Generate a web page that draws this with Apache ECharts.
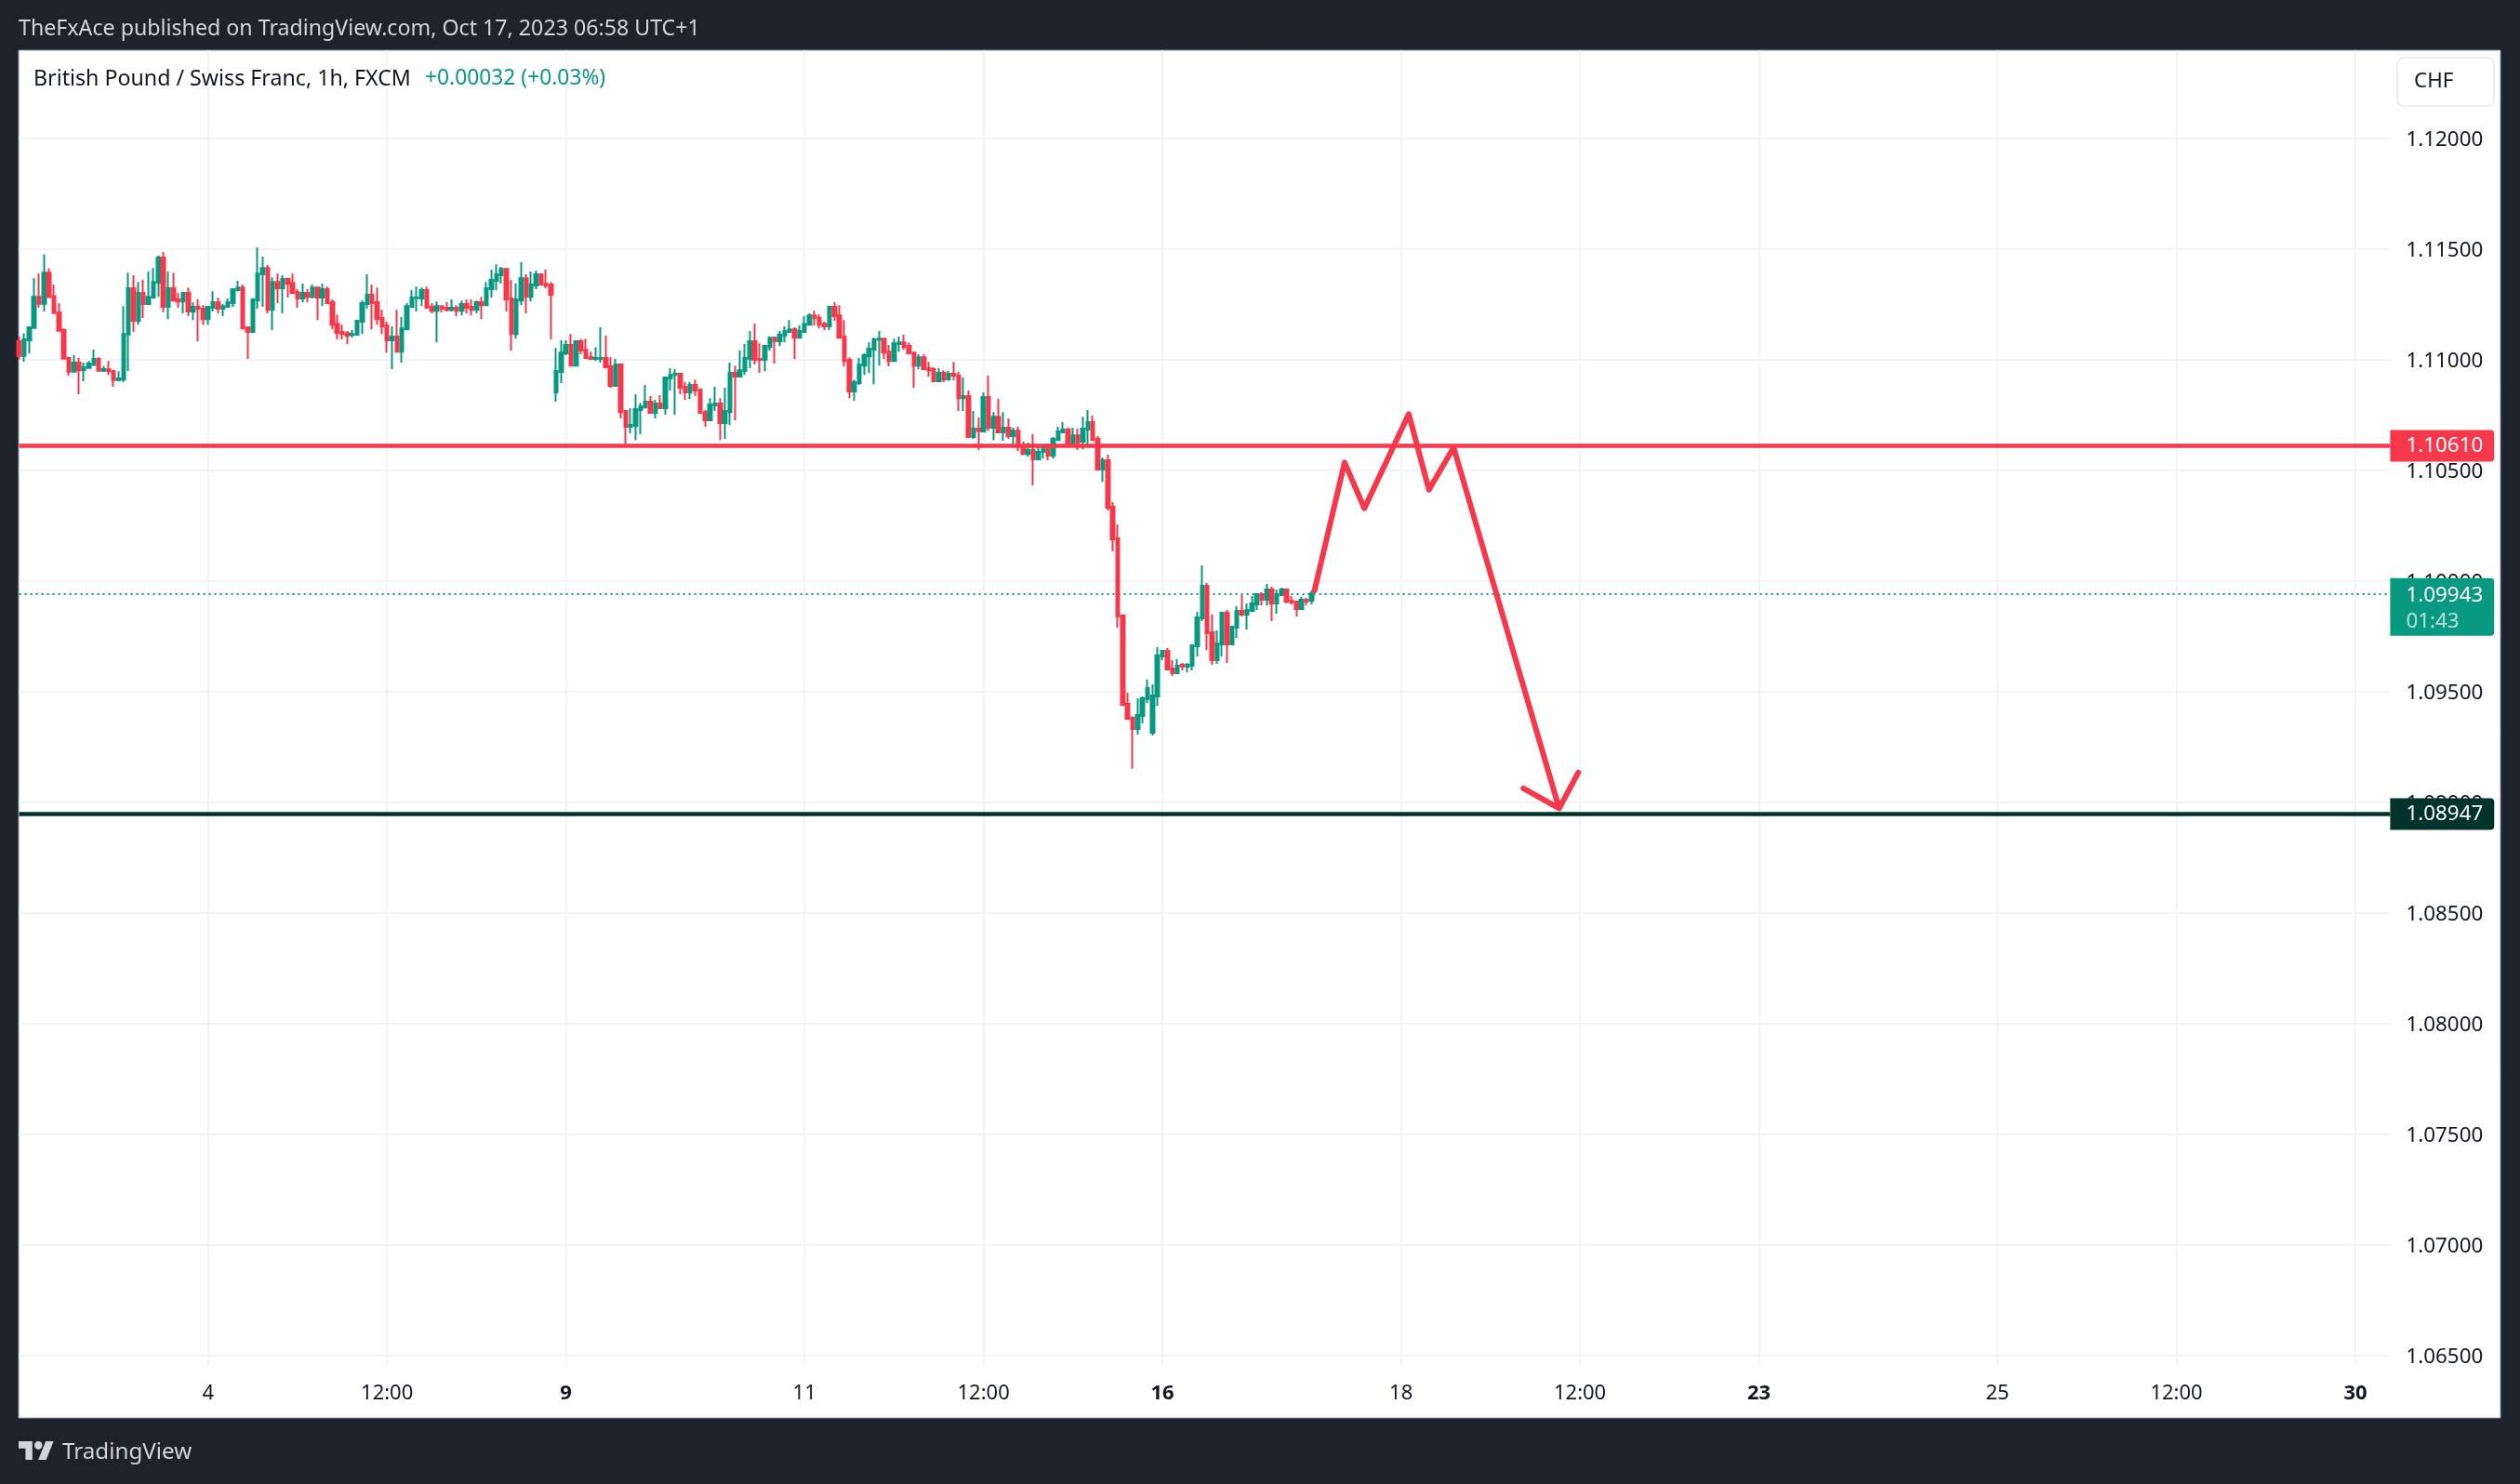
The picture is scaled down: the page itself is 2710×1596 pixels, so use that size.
<!DOCTYPE html>
<html>
<head>
<meta charset="utf-8">
<title>GBPCHF 1h</title>
<style>
  html, body { margin: 0; padding: 0; background: #1e222d; }
  #chart { width: 2710px; height: 1596px; }
</style>
<script src="https://cdn.jsdelivr.net/npm/echarts@6/dist/echarts.min.js"></script>
</head>
<body>
<div id="chart"></div>
<script>
// Hourly candles, first bar is Oct 2
const opens = [
  1.11084,1.11017,1.11087,1.11143,1.11284,1.11252,1.11393,1.11287,1.11213,1.11133,
  1.11007,1.10945,1.10986,1.10952,1.10962,1.10976,1.11003,1.10950,1.10957,1.10948,
  1.10908,1.10910,1.11113,1.11322,1.11175,1.11301,1.11251,1.11280,1.11347,1.11461,
  1.11238,1.11322,1.11272,1.11263,1.11301,1.11217,1.11238,1.11230,1.11183,1.11234,
  1.11259,1.11230,1.11238,1.11255,1.11314,1.11326,1.11146,1.11125,1.11267,1.11385,
  1.11414,1.11225,1.11351,1.11322,1.11364,1.11347,1.11305,1.11276,1.11301,1.11284,
  1.11326,1.11280,1.11318,1.11259,1.11162,1.11125,1.11120,1.11112,1.11112,1.11171,
  1.11251,1.11293,1.11259,1.11188,1.11154,1.11087,1.11104,1.11036,1.11137,1.11238,
  1.11277,1.11276,1.11314,1.11238,1.11221,1.11242,1.11234,1.11225,1.11234,1.11221,
  1.11251,1.11238,1.11225,1.11259,1.11246,1.11318,1.11356,1.11381,1.11410,1.11276,
  1.11116,1.11267,1.11368,1.11284,1.11335,1.11385,1.11343,1.11339,1.10852,1.10944,
  1.11028,1.11066,1.10973,1.11083,1.11045,1.11011,1.11003,1.11003,1.11007,1.10969,
  1.10881,1.10978,1.10768,1.10696,1.10700,1.10772,1.10784,1.10810,1.10759,1.10801,
  1.10780,1.10915,1.10931,1.10936,1.10877,1.10852,1.10885,1.10864,1.10763,1.10726,
  1.10793,1.10801,1.10713,1.10763,1.10940,1.10923,1.10948,1.11003,1.11083,1.11003,
  1.10999,1.11057,1.11099,1.11083,1.11108,1.11125,1.11137,1.11099,1.11125,1.11158,
  1.11200,1.11188,1.11162,1.11150,1.11238,1.11200,1.11104,1.10999,1.10856,1.10894,
  1.10973,1.11015,1.11045,1.11090,1.11095,1.11036,1.10994,1.11070,1.11078,1.11062,
  1.11032,1.10973,1.11011,1.10961,1.10957,1.10902,1.10940,1.10910,1.10936,1.10927,
  1.10826,1.10835,1.10650,1.10688,1.10675,1.10831,1.10692,1.10742,1.10671,1.10692,
  1.10654,1.10679,1.10612,1.10574,1.10591,1.10549,1.10583,1.10604,1.10566,1.10637,
  1.10671,1.10684,1.10621,1.10658,1.10629,1.10684,1.10717,1.10642,1.10503,1.10545,
  1.10335,1.10192,1.09844,1.09445,1.09382,1.09331,1.09390,1.09466,1.09314,1.09478,
  1.09659,1.09684,1.09604,1.09583,1.09621,1.09612,1.09617,1.09705,1.09831,1.09978,
  1.09768,1.09642,1.09713,1.09856,1.09713,1.09789,1.09865,1.09848,1.09865,1.09894,
  1.09940,1.09915,1.09961,1.09898,1.09936,1.09961,1.09911,1.09907,1.09873,1.09915,1.09911
];
const closes = [
  1.11017,1.11091,1.11146,1.11284,1.11252,1.11393,1.11283,1.11210,1.11130,1.11004,
  1.10945,1.10986,1.10952,1.10965,1.10982,1.11003,1.10950,1.10957,1.10947,1.10908,
  1.10915,1.11116,1.11322,1.11175,1.11301,1.11251,1.11284,1.11351,1.11461,1.11238,
  1.11322,1.11267,1.11263,1.11301,1.11217,1.11238,1.11230,1.11183,1.11238,1.11259,
  1.11230,1.11242,1.11259,1.11318,1.11326,1.11141,1.11125,1.11272,1.11389,1.11414,
  1.11225,1.11351,1.11322,1.11364,1.11343,1.11301,1.11276,1.11301,1.11284,1.11326,
  1.11280,1.11318,1.11255,1.11158,1.11120,1.11116,1.11108,1.11116,1.11175,1.11255,
  1.11293,1.11255,1.11183,1.11150,1.11087,1.11104,1.11036,1.11141,1.11242,1.11280,
  1.11280,1.11314,1.11234,1.11221,1.11242,1.11230,1.11225,1.11234,1.11221,1.11251,
  1.11234,1.11225,1.11259,1.11246,1.11322,1.11360,1.11385,1.11410,1.11272,1.11116,
  1.11272,1.11368,1.11284,1.11339,1.11385,1.11339,1.11335,1.11293,1.10948,1.11032,
  1.11066,1.10973,1.11083,1.11041,1.11007,1.11003,1.11007,1.11007,1.10965,1.10881,
  1.10978,1.10763,1.10696,1.10705,1.10776,1.10789,1.10810,1.10759,1.10801,1.10780,
  1.10919,1.10931,1.10936,1.10873,1.10852,1.10885,1.10860,1.10759,1.10726,1.10797,
  1.10801,1.10713,1.10768,1.10940,1.10923,1.10952,1.11007,1.11083,1.10999,1.10999,
  1.11062,1.11099,1.11083,1.11112,1.11129,1.11137,1.11099,1.11129,1.11162,1.11200,
  1.11188,1.11158,1.11150,1.11238,1.11196,1.11099,1.10994,1.10856,1.10898,1.10978,
  1.11020,1.11049,1.11091,1.11095,1.11032,1.10994,1.11074,1.11078,1.11057,1.11028,
  1.10973,1.11011,1.10957,1.10952,1.10902,1.10940,1.10910,1.10936,1.10927,1.10826,
  1.10835,1.10650,1.10688,1.10677,1.10831,1.10692,1.10742,1.10671,1.10692,1.10654,
  1.10679,1.10608,1.10574,1.10591,1.10549,1.10583,1.10600,1.10566,1.10642,1.10675,
  1.10684,1.10621,1.10658,1.10625,1.10688,1.10717,1.10637,1.10503,1.10545,1.10331,
  1.10188,1.09839,1.09440,1.09377,1.09331,1.09394,1.09470,1.09516,1.09482,1.09663,
  1.09684,1.09600,1.09583,1.09617,1.09613,1.09621,1.09709,1.09835,1.09978,1.09764,
  1.09642,1.09718,1.09856,1.09713,1.09793,1.09865,1.09848,1.09869,1.09898,1.09940,
  1.09915,1.09961,1.09898,1.09940,1.09961,1.09907,1.09902,1.09873,1.09915,1.09907,1.09943
];
const lows = [
  1.11000,1.10990,1.11028,1.11143,1.11235,1.11217,1.11280,1.11210,1.11130,1.11004,
  1.10927,1.10945,1.10843,1.10902,1.10962,1.10972,1.10950,1.10944,1.10931,1.10877,
  1.10902,1.10899,1.10948,1.11125,1.11158,1.11188,1.11251,1.11280,1.11284,1.11213,
  1.11183,1.11263,1.11234,1.11209,1.11196,1.11179,1.11083,1.11158,1.11158,1.11217,
  1.11209,1.11196,1.11234,1.11238,1.11309,1.11141,1.11003,1.11120,1.11230,1.11238,
  1.11209,1.11133,1.11255,1.11209,1.11280,1.11301,1.11234,1.11259,1.11259,1.11276,
  1.11179,1.11242,1.11255,1.11137,1.11091,1.11091,1.11070,1.11099,1.11108,1.11116,
  1.11230,1.11137,1.11158,1.11116,1.11032,1.10957,1.11036,1.10986,1.11133,1.11234,
  1.11217,1.11242,1.11230,1.11209,1.11078,1.11213,1.11217,1.11217,1.11196,1.11200,
  1.11209,1.11200,1.11209,1.11183,1.11246,1.11280,1.11314,1.11343,1.11217,1.11041,
  1.11095,1.11246,1.11209,1.11263,1.11318,1.11335,1.11322,1.11091,1.10810,1.10894,
  1.11020,1.10973,1.10973,1.11024,1.11007,1.10999,1.10994,1.10986,1.10961,1.10873,
  1.10877,1.10734,1.10612,1.10667,1.10637,1.10663,1.10784,1.10759,1.10734,1.10780,
  1.10751,1.10860,1.10751,1.10843,1.10818,1.10822,1.10835,1.10755,1.10696,1.10726,
  1.10768,1.10637,1.10642,1.10705,1.10726,1.10919,1.10931,1.10961,1.10978,1.10940,
  1.10948,1.11041,1.10982,1.11062,1.11078,1.11120,1.11003,1.11099,1.11125,1.11158,
  1.11154,1.11141,1.11133,1.11133,1.11175,1.11099,1.10969,1.10826,1.10814,1.10885,
  1.10931,1.10940,1.10889,1.10973,1.11003,1.10969,1.10994,1.11036,1.11045,1.11028,
  1.10873,1.10957,1.10957,1.10923,1.10902,1.10902,1.10898,1.10910,1.10906,1.10768,
  1.10768,1.10650,1.10642,1.10591,1.10675,1.10679,1.10637,1.10671,1.10633,1.10642,
  1.10604,1.10587,1.10574,1.10562,1.10432,1.10545,1.10553,1.10545,1.10553,1.10633,
  1.10667,1.10621,1.10616,1.10591,1.10595,1.10616,1.10637,1.10503,1.10448,1.10318,
  1.10133,1.09789,1.09440,1.09373,1.09151,1.09306,1.09356,1.09449,1.09302,1.09436,
  1.09642,1.09596,1.09571,1.09579,1.09596,1.09587,1.09596,1.09659,1.09818,1.09688,
  1.09621,1.09625,1.09659,1.09629,1.09713,1.09743,1.09839,1.09781,1.09865,1.09869,
  1.09890,1.09890,1.09818,1.09852,1.09932,1.09898,1.09894,1.09839,1.09873,1.09890,1.09894
];
const highs = [
  1.11105,1.11119,1.11146,1.11368,1.11389,1.11476,1.11413,1.11339,1.11255,1.11141,
  1.11007,1.11020,1.11007,1.10986,1.10994,1.11045,1.11011,1.10972,1.10994,1.10952,
  1.10947,1.11242,1.11393,1.11381,1.11351,1.11360,1.11398,1.11414,1.11469,1.11486,
  1.11398,1.11393,1.11301,1.11305,1.11326,1.11259,1.11272,1.11246,1.11242,1.11309,
  1.11280,1.11251,1.11276,1.11322,1.11356,1.11339,1.11146,1.11272,1.11507,1.11465,
  1.11427,1.11372,1.11389,1.11381,1.11364,1.11389,1.11318,1.11343,1.11318,1.11339,
  1.11326,1.11343,1.11330,1.11272,1.11204,1.11158,1.11129,1.11133,1.11179,1.11267,
  1.11385,1.11339,1.11326,1.11225,1.11171,1.11150,1.11225,1.11192,1.11255,1.11314,
  1.11330,1.11326,1.11330,1.11255,1.11263,1.11246,1.11259,1.11272,1.11246,1.11267,
  1.11272,1.11272,1.11267,1.11284,1.11351,1.11406,1.11431,1.11419,1.11410,1.11360,
  1.11343,1.11440,1.11385,1.11398,1.11402,1.11389,1.11406,1.11351,1.11053,1.11087,
  1.11087,1.11116,1.11087,1.11091,1.11095,1.11036,1.11057,1.11146,1.11108,1.11011,
  1.11003,1.10982,1.10772,1.10780,1.10843,1.10805,1.10885,1.10835,1.10818,1.10839,
  1.10919,1.10961,1.10957,1.10936,1.10898,1.10898,1.10910,1.10864,1.10772,1.10826,
  1.10877,1.10826,1.10873,1.10986,1.10973,1.11041,1.11070,1.11129,1.11162,1.11074,
  1.11066,1.11104,1.11104,1.11129,1.11150,1.11179,1.11146,1.11154,1.11196,1.11209,
  1.11221,1.11204,1.11171,1.11238,1.11259,1.11246,1.11179,1.11011,1.10910,1.11007,
  1.11028,1.11078,1.11099,1.11129,1.11095,1.11066,1.11095,1.11104,1.11112,1.11078,
  1.11036,1.11024,1.11024,1.10990,1.10965,1.10961,1.10952,1.10948,1.10990,1.10944,
  1.10919,1.10860,1.10768,1.10738,1.10852,1.10927,1.10763,1.10822,1.10763,1.10734,
  1.10692,1.10696,1.10629,1.10625,1.10663,1.10608,1.10608,1.10621,1.10650,1.10696,
  1.10717,1.10692,1.10692,1.10688,1.10742,1.10772,1.10747,1.10654,1.10558,1.10570,
  1.10356,1.10255,1.09844,1.09495,1.09386,1.09470,1.09478,1.09554,1.09533,1.09701,
  1.09688,1.09697,1.09642,1.09646,1.09629,1.09629,1.09709,1.09860,1.10070,1.09991,
  1.09848,1.09776,1.09860,1.09869,1.09793,1.09886,1.09936,1.09898,1.09932,1.09944,
  1.09949,1.09986,1.09974,1.09961,1.09970,1.09961,1.09932,1.09911,1.09928,1.09923,1.09957
];

// Time axis: bar index of each tick and its label
const tickIndex = [38, 74, 110, 158, 194, 230, 278, 314, 350, 398, 434, 470];
const tickLabels = ['4', '12:00', '9', '11', '12:00', '16', '18', '12:00', '23', '25', '12:00', '30'];
const boldTicks = ['9', '16', '23', '30'];
const barCount = 478;

// Price axis
const priceMin = 1.06453;
const priceMax = 1.12398;
const priceTicks = [1.065, 1.07, 1.075, 1.08, 1.085, 1.09, 1.095, 1.10, 1.105, 1.11, 1.115, 1.12];

// Horizontal lines drawn on the chart
const resistance = 1.10610;
const support = 1.08947;
const lastPrice = 1.09943;
const countdown = '01:43';

// Hand drawn projection: bar position and price of each vertex
const pencilBar = [260.6, 266.65, 270.63, 279.56, 283.62, 288.59, 309.81, 302.62, 309.81, 313.66];
const pencilPrice = [1.09957, 1.10535, 1.10328, 1.10754, 1.10412, 1.10603, 1.08972, 1.09063, 1.08972, 1.09134];

const RED = '#f7374a';
const GREEN = '#089981';
const DARK = '#00332a';
const GRID = '#f3f4f6';
const FRAME = '#1e222d';
const FONT = '"Noto Sans", sans-serif';

const categories = [];
for (let i = 0; i < barCount; i++) {
  categories.push(String(i));
}
const candles = opens.map((o, i) => [o, closes[i], lows[i], highs[i]]);
const pencil = pencilBar.map((b, i) => [b, pencilPrice[i]]);

const isTick = i => tickIndex.indexOf(i) !== -1;

function badge(value, text, color) {
  return {
    yAxis: value,
    lineStyle: { color: color, width: 4.5, type: 'solid' },
    label: {
      show: true,
      position: 'end',
      distance: 0,
      formatter: text,
      color: '#fff',
      fontFamily: FONT,
      fontSize: 22.4,
      lineHeight: 24,
      backgroundColor: color,
      padding: [6, 12, 4, 17],
      borderRadius: [0, 4, 4, 0]
    }
  };
}

var myChart = echarts.init(document.getElementById('chart'));

var option = {
  animation: false,
  backgroundColor: FRAME,
  grid: { left: 20.6, right: 139.6, top: 54, bottom: 127, containLabel: false },
  xAxis: [
    {
      type: 'category',
      data: categories,
      boundaryGap: false,
      axisLine: { show: false },
      axisTick: { show: false },
      splitLine: {
        show: true,
        interval: i => isTick(i),
        lineStyle: { color: GRID, width: 2 }
      },
      axisLabel: {
        interval: i => isTick(i),
        margin: 19,
        color: '#131722',
        fontFamily: FONT,
        fontSize: 22,
        formatter: function (value, i) {
          var label = tickLabels[tickIndex.indexOf(Number(value))];
          return boldTicks.indexOf(label) !== -1 ? '{b|' + label + '}' : label;
        },
        rich: { b: { fontWeight: 'bold', fontFamily: FONT, fontSize: 22, color: '#131722' } }
      }
    },
    { type: 'value', min: 0, max: barCount - 1, show: false }
  ],
  yAxis: {
    type: 'value',
    position: 'right',
    min: priceMin,
    max: priceMax,
    axisLine: { show: false },
    axisTick: { show: false, customValues: priceTicks },
    splitLine: { show: true, lineStyle: { color: GRID, width: 2 } },
    axisLabel: {
      customValues: priceTicks,
      margin: 17,
      verticalAlign: 'top',
      lineHeight: 3,
      color: '#131722',
      fontFamily: FONT,
      fontSize: 22.4,
      formatter: v => v.toFixed(5)
    }
  },
  series: [
    {
      // last price, stays behind the candles
      type: 'line',
      data: [],
      z: 1,
      markLine: {
        z: 1,
        precision: 5,
        silent: true,
        symbol: 'none',
        animation: false,
        data: [{
          yAxis: lastPrice,
          lineStyle: { color: GREEN, width: 2, type: [2, 4] },
          label: {
            show: true,
            position: 'end',
            distance: 0,
            offset: [0, 14.5],
            formatter: '{a|' + lastPrice.toFixed(5) + '}\n{c|' + countdown + '}',
            backgroundColor: GREEN,
            padding: [5, 12, 1, 17],
            borderRadius: [0, 4, 4, 0],
            rich: {
              a: { color: '#fff', fontFamily: FONT, fontSize: 22.4, lineHeight: 28 },
              c: { color: 'rgba(255,255,255,0.7)', fontFamily: FONT, fontSize: 22.4, lineHeight: 28 }
            }
          }
        }]
      }
    },
    {
      type: 'candlestick',
      data: candles,
      barWidth: 4,
      z: 2,
      itemStyle: {
        color: GREEN,
        color0: RED,
        borderColor: GREEN,
        borderColor0: RED,
        borderWidth: 2
      },
      markLine: {
        precision: 5,
        silent: true,
        symbol: 'none',
        animation: false,
        data: [
          badge(resistance, resistance.toFixed(5), RED),
          badge(support, support.toFixed(5), DARK)
        ]
      }
    },
    {
      type: 'line',
      xAxisIndex: 1,
      data: pencil,
      z: 6,
      showSymbol: false,
      silent: true,
      lineStyle: { color: RED, width: 6, cap: 'round', join: 'round' }
    }
  ],
  graphic: [
    // white pane behind the plot, frame keeps the dark border
    {
      type: 'rect', z: -10, silent: true,
      shape: { x: 20, y: 54, width: 2669, height: 1471 },
      style: { fill: '#fff', stroke: '#8f929b', lineWidth: 1 }
    },
    // currency button
    {
      type: 'rect', z: 1, silent: true,
      shape: { x: 2578, y: 62, width: 104, height: 52, r: 7 },
      style: { fill: '#fff', stroke: '#e8e9ef', lineWidth: 1.5 }
    },
    {
      type: 'text', z: 2, silent: true, x: 2596, y: 88,
      style: { text: 'CHF', fill: '#131722', font: '22.4px ' + FONT, textVerticalAlign: 'middle' }
    },
    {
      type: 'text', silent: true, x: 20, y: 31,
      style: { text: 'TheFxAce published on TradingView.com, Oct 17, 2023 06:58 UTC+1', fill: '#d1d4dc', font: '23.2px ' + FONT, textVerticalAlign: 'middle' }
    },
    {
      type: 'text', z: 2, silent: true, x: 36, y: 85,
      style: { text: 'British Pound / Swiss Franc, 1h, FXCM', fill: '#131722', font: '23.2px ' + FONT, textVerticalAlign: 'middle' }
    },
    {
      type: 'text', z: 2, silent: true, x: 457, y: 85,
      style: { text: '+0.00032 (+0.03%)', fill: GREEN, font: '22.8px ' + FONT, textVerticalAlign: 'middle' }
    },
    // TradingView logo
    {
      type: 'group', silent: true, x: 20, y: 1545.6, scaleX: 1.06, scaleY: 1.11,
      children: [
        { type: 'polygon', shape: { points: [[14, 22], [7, 22], [7, 11], [0, 11], [0, 4], [14, 4]] }, style: { fill: '#d1d4dc' } },
        { type: 'polygon', shape: { points: [[28, 22], [20, 22], [27.5, 4], [35.5, 4]] }, style: { fill: '#d1d4dc' } },
        { type: 'circle', shape: { cx: 20, cy: 8, r: 4 }, style: { fill: '#d1d4dc' } }
      ]
    },
    {
      type: 'text', silent: true, x: 67, y: 1562,
      style: { text: 'TradingView', fill: '#d1d4dc', font: '24.2px ' + FONT, textVerticalAlign: 'middle' }
    }
  ]
};

myChart.setOption(option);

window.onresize = function () {
  myChart.resize();
};
</script>
</body>
</html>
